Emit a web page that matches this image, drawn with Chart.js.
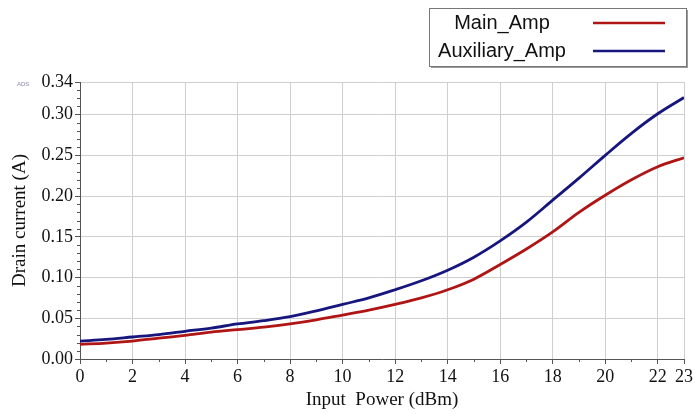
<!DOCTYPE html>
<html>
<head>
<meta charset="utf-8">
<script src="https://cdn.jsdelivr.net/npm/chart.js@4"></script>
<style>
  html, body { margin: 0; padding: 0; background: #fff; }
  #wrap { width: 695px; height: 414px; position: relative; }
</style>
</head>
<body>
<div id="wrap"><canvas id="ampChart" width="695" height="414"></canvas></div>
<script>
// input power (dBm)
const inputPower = [0, 1, 2, 3, 4, 5, 6, 7, 8, 9, 10, 11, 12, 13, 14, 15, 16, 17, 18, 19, 20, 21, 22, 23];
// drain current (A)
const mainAmp = [0.018, 0.0195, 0.022, 0.0255, 0.029, 0.033, 0.036, 0.039, 0.043, 0.048, 0.054, 0.060,
                 0.067, 0.075, 0.085, 0.098, 0.116, 0.135, 0.156, 0.180, 0.201, 0.220, 0.236, 0.247];
const auxAmp = [0.022, 0.024, 0.027, 0.030, 0.034, 0.038, 0.043, 0.047, 0.052, 0.059, 0.067, 0.075,
                0.085, 0.096, 0.109, 0.125, 0.145, 0.168, 0.195, 0.222, 0.250, 0.277, 0.301, 0.321];
const seriesNames = ['Main_Amp', 'Auxiliary_Amp'];
const xTicks = [0, 2, 4, 6, 8, 10, 12, 14, 16, 18, 20, 22, 23];
const yTicks = [0, 0.05, 0.10, 0.15, 0.20, 0.25, 0.30, 0.34];

const serif = "'Liberation Serif', 'DejaVu Serif', serif";
const sans = "'Liberation Sans', Arial, sans-serif";

// small ticks between the labelled ones
const minorTicks = {
    id: 'minorTicks',
    afterDraw(chart) {
        const ctx = chart.ctx;
        const x = chart.scales.x;
        const y = chart.scales.y;
        ctx.save();
        ctx.strokeStyle = '#555';
        ctx.lineWidth = 1;
        ctx.beginPath();
        for (let v = 1; v < 22; v += 2) {
            const px = Math.round(x.getPixelForValue(v)) + 0.5;
            ctx.moveTo(px, y.bottom);
            ctx.lineTo(px, y.bottom + 3);
        }
        for (let i = 1; i < 34; i++) {
            if (i % 5 === 0) continue;
            const py = Math.round(y.getPixelForValue(i / 100)) + 0.5;
            ctx.moveTo(x.left - 3, py);
            ctx.lineTo(x.left, py);
        }
        ctx.stroke();
        ctx.fillStyle = '#8a8aa8';
        ctx.font = '6px ' + sans;
        ctx.fillText('ADS', 17, y.top + 4);
        ctx.restore();
    }
};

// legend box in the top right corner
const boxLegend = {
    id: 'boxLegend',
    afterDraw(chart) {
        const ctx = chart.ctx;
        const left = 429, top = 8, w = 257, h = 58;
        ctx.save();
        ctx.fillStyle = '#9a9a9a';
        ctx.fillRect(left + 2, top + 2, w, h);
        ctx.fillStyle = '#fff';
        ctx.fillRect(left, top, w, h);
        ctx.strokeStyle = '#777';
        ctx.lineWidth = 1;
        ctx.strokeRect(left + 0.5, top + 0.5, w, h);
        ctx.font = '20px ' + sans;
        ctx.textAlign = 'center';
        ctx.textBaseline = 'middle';
        chart.data.datasets.forEach((ds, i) => {
            const rowY = top + 15 + i * 28;
            ctx.fillStyle = '#111';
            ctx.fillText(ds.label, 502, rowY);
            ctx.strokeStyle = ds.borderColor;
            ctx.lineWidth = 2.5;
            ctx.beginPath();
            ctx.moveTo(593, rowY);
            ctx.lineTo(665, rowY);
            ctx.stroke();
        });
        ctx.restore();
    }
};

const ctx = document.getElementById('ampChart').getContext('2d');
new Chart(ctx, {
    type: 'line',
    data: {
        labels: inputPower,
        datasets: [
            {
                label: seriesNames[0],
                data: inputPower.map((p, i) => ({ x: p, y: mainAmp[i] })),
                borderColor: '#b01515',
                borderWidth: 2.8,
                pointRadius: 0,
                tension: 0.35
            },
            {
                label: seriesNames[1],
                data: inputPower.map((p, i) => ({ x: p, y: auxAmp[i] })),
                borderColor: '#16167e',
                borderWidth: 2.8,
                pointRadius: 0,
                tension: 0.35
            }
        ]
    },
    options: {
        responsive: false,
        animation: false,
        maintainAspectRatio: false,
        devicePixelRatio: 1,
        layout: { padding: { top: 82, right: 10, left: 0, bottom: 0 } },
        plugins: {
            legend: { display: false },
            tooltip: { enabled: false }
        },
        scales: {
            x: {
                type: 'linear',
                min: 0,
                max: 23,
                afterBuildTicks: (scale) => { scale.ticks = xTicks.map(v => ({ value: v })); },
                afterFit: (scale) => { scale.height = 55; },
                grid: { color: '#cfcfcf', tickLength: 5, tickColor: '#555' },
                border: { color: '#555' },
                ticks: {
                    color: '#111',
                    font: { family: serif, size: 18 },
                    padding: 2,
                    maxRotation: 0,
                    autoSkip: false
                },
                title: {
                    display: true,
                    text: 'Input  Power (dBm)',
                    color: '#111',
                    font: { family: serif, size: 19 },
                    padding: { top: 0, bottom: 3 }
                }
            },
            y: {
                min: 0,
                max: 0.34,
                afterBuildTicks: (scale) => { scale.ticks = yTicks.map(v => ({ value: v })); },
                afterFit: (scale) => { scale.width = 80; },
                grid: { color: '#cfcfcf', tickLength: 5, tickColor: '#555' },
                border: { color: '#555' },
                ticks: {
                    color: '#111',
                    font: { family: serif, size: 18 },
                    padding: 2,
                    autoSkip: false,
                    callback: (v) => Number(v).toFixed(2)
                },
                title: {
                    display: true,
                    text: 'Drain current (A)',
                    color: '#111',
                    font: { family: serif, size: 19 },
                    padding: { top: 9, bottom: 0 }
                }
            }
        }
    },
    plugins: [minorTicks, boxLegend]
});
</script>
</body>
</html>
